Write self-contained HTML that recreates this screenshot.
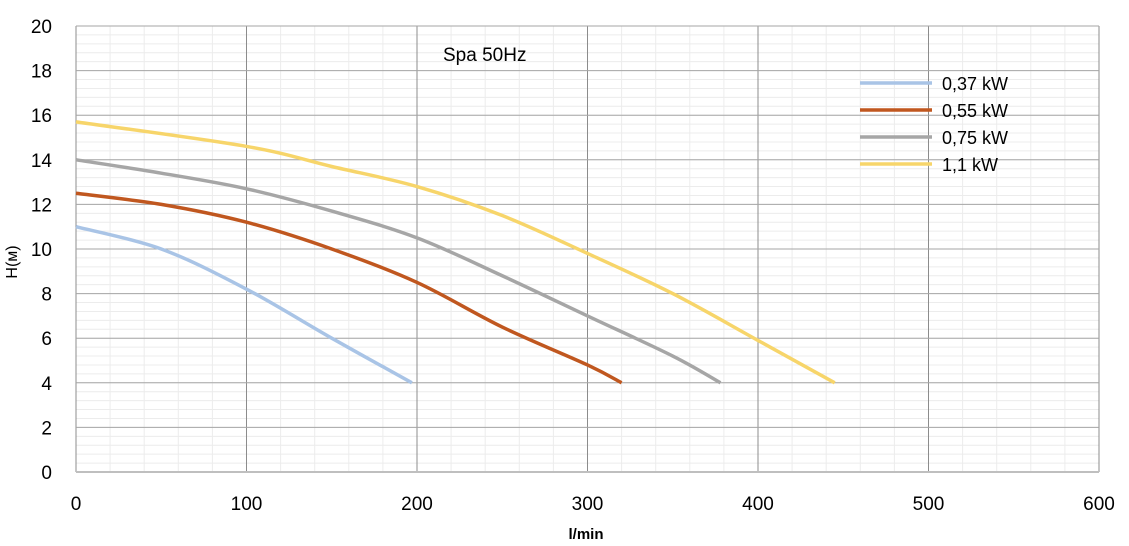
<!DOCTYPE html>
<html><head><meta charset="utf-8"><style>
html,body{margin:0;padding:0;background:#fff;}
svg{display:block;font-family:"Liberation Sans",Carlito,sans-serif;}
</style></head><body>
<svg id="c" width="1129" height="546" xmlns="http://www.w3.org/2000/svg"></svg>
<script>
const s=document.getElementById('c');
const X=v=>76+v*1023/600, Y=h=>472-h*22.3;
let o='';
// minor grid
for(let v=0;v<=600;v+=20){o+=`<line x1="${X(v)}" y1="${Y(0)}" x2="${X(v)}" y2="${Y(20)}" stroke="#ececec" stroke-width="1"/>`;}
for(let h=0;h<=20;h+=0.4){o+=`<line x1="${X(0)}" y1="${Y(h)}" x2="${X(600)}" y2="${Y(h)}" stroke="#ececec" stroke-width="1"/>`;}
// major grid
for(let v=0;v<=600;v+=100){o+=`<line x1="${X(v)}" y1="${Y(0)}" x2="${X(v)}" y2="${Y(20)}" stroke="#8c8c8c" stroke-width="1"/>`;
o+=`<text x="${X(v)}" y="510" font-size="19" text-anchor="middle" fill="#000">${v}</text>`;}
for(let h=0;h<=20;h+=2){o+=`<line x1="${X(0)}" y1="${Y(h)}" x2="${X(600)}" y2="${Y(h)}" stroke="${h==0?'#bfbfbf':'#a6a6a6'}" stroke-width="${h==0?2:1}"/>`;
o+=`<text x="52" y="${Y(h)+7}" font-size="19" text-anchor="end" fill="#000">${h}</text>`;}
const ser=[
['#a9c4e6',[[0,11],[50,10],[100,8.2],[150,6],[197,4]]],
['#c0571f',[[0,12.5],[50,12],[100,11.2],[150,10],[200,8.5],[250,6.5],[300,4.8],[320,4]]],
['#a6a6a6',[[0,14],[50,13.4],[100,12.7],[150,11.7],[200,10.5],[250,8.8],[300,7],[350,5.2],[378,4]]],
['#f7d56a',[[0,15.7],[100,14.6],[150,13.7],[200,12.8],[250,11.5],[300,9.8],[350,8],[400,5.9],[445,4]]]];
for(const [c,p] of ser){
 // catmull-rom to bezier
 const q=p.map(a=>[X(a[0]),Y(a[1])]);
 let d=`M${q[0][0]},${q[0][1]}`;
 for(let i=0;i<q.length-1;i++){const p0=q[i-1]||q[i],p1=q[i],p2=q[i+1],p3=q[i+2]||q[i+1];
 d+=` C${p1[0]+(p2[0]-p0[0])/6},${p1[1]+(p2[1]-p0[1])/6} ${p2[0]-(p3[0]-p1[0])/6},${p2[1]-(p3[1]-p1[1])/6} ${p2[0]},${p2[1]}`;}
 o+=`<path d="${d}" fill="none" stroke="${c}" stroke-width="3.5"/>`;}
const lg=[['#a9c4e6','0,37 kW'],['#c0571f','0,55 kW'],['#a6a6a6','0,75 kW'],['#f7d56a','1,1 kW']];
lg.forEach((l,i)=>{const y=83+i*27;o+=`<line x1="860" y1="${y}" x2="932" y2="${y}" stroke="${l[0]}" stroke-width="3.5"/><text x="942" y="${y+7}" font-size="18" fill="#000">${l[1]}</text>`;});
o+=`<text x="443" y="61" font-size="19" fill="#000">Spa 50Hz</text>`;
o+=`<text x="586" y="539" font-size="15" font-weight="bold" text-anchor="middle" fill="#000">l/min</text>`;
o+=`<text transform="translate(17,262) rotate(-90)" font-size="16" text-anchor="middle" fill="#000">H(м)</text>`;
s.innerHTML=o;
</script>
</body></html>
